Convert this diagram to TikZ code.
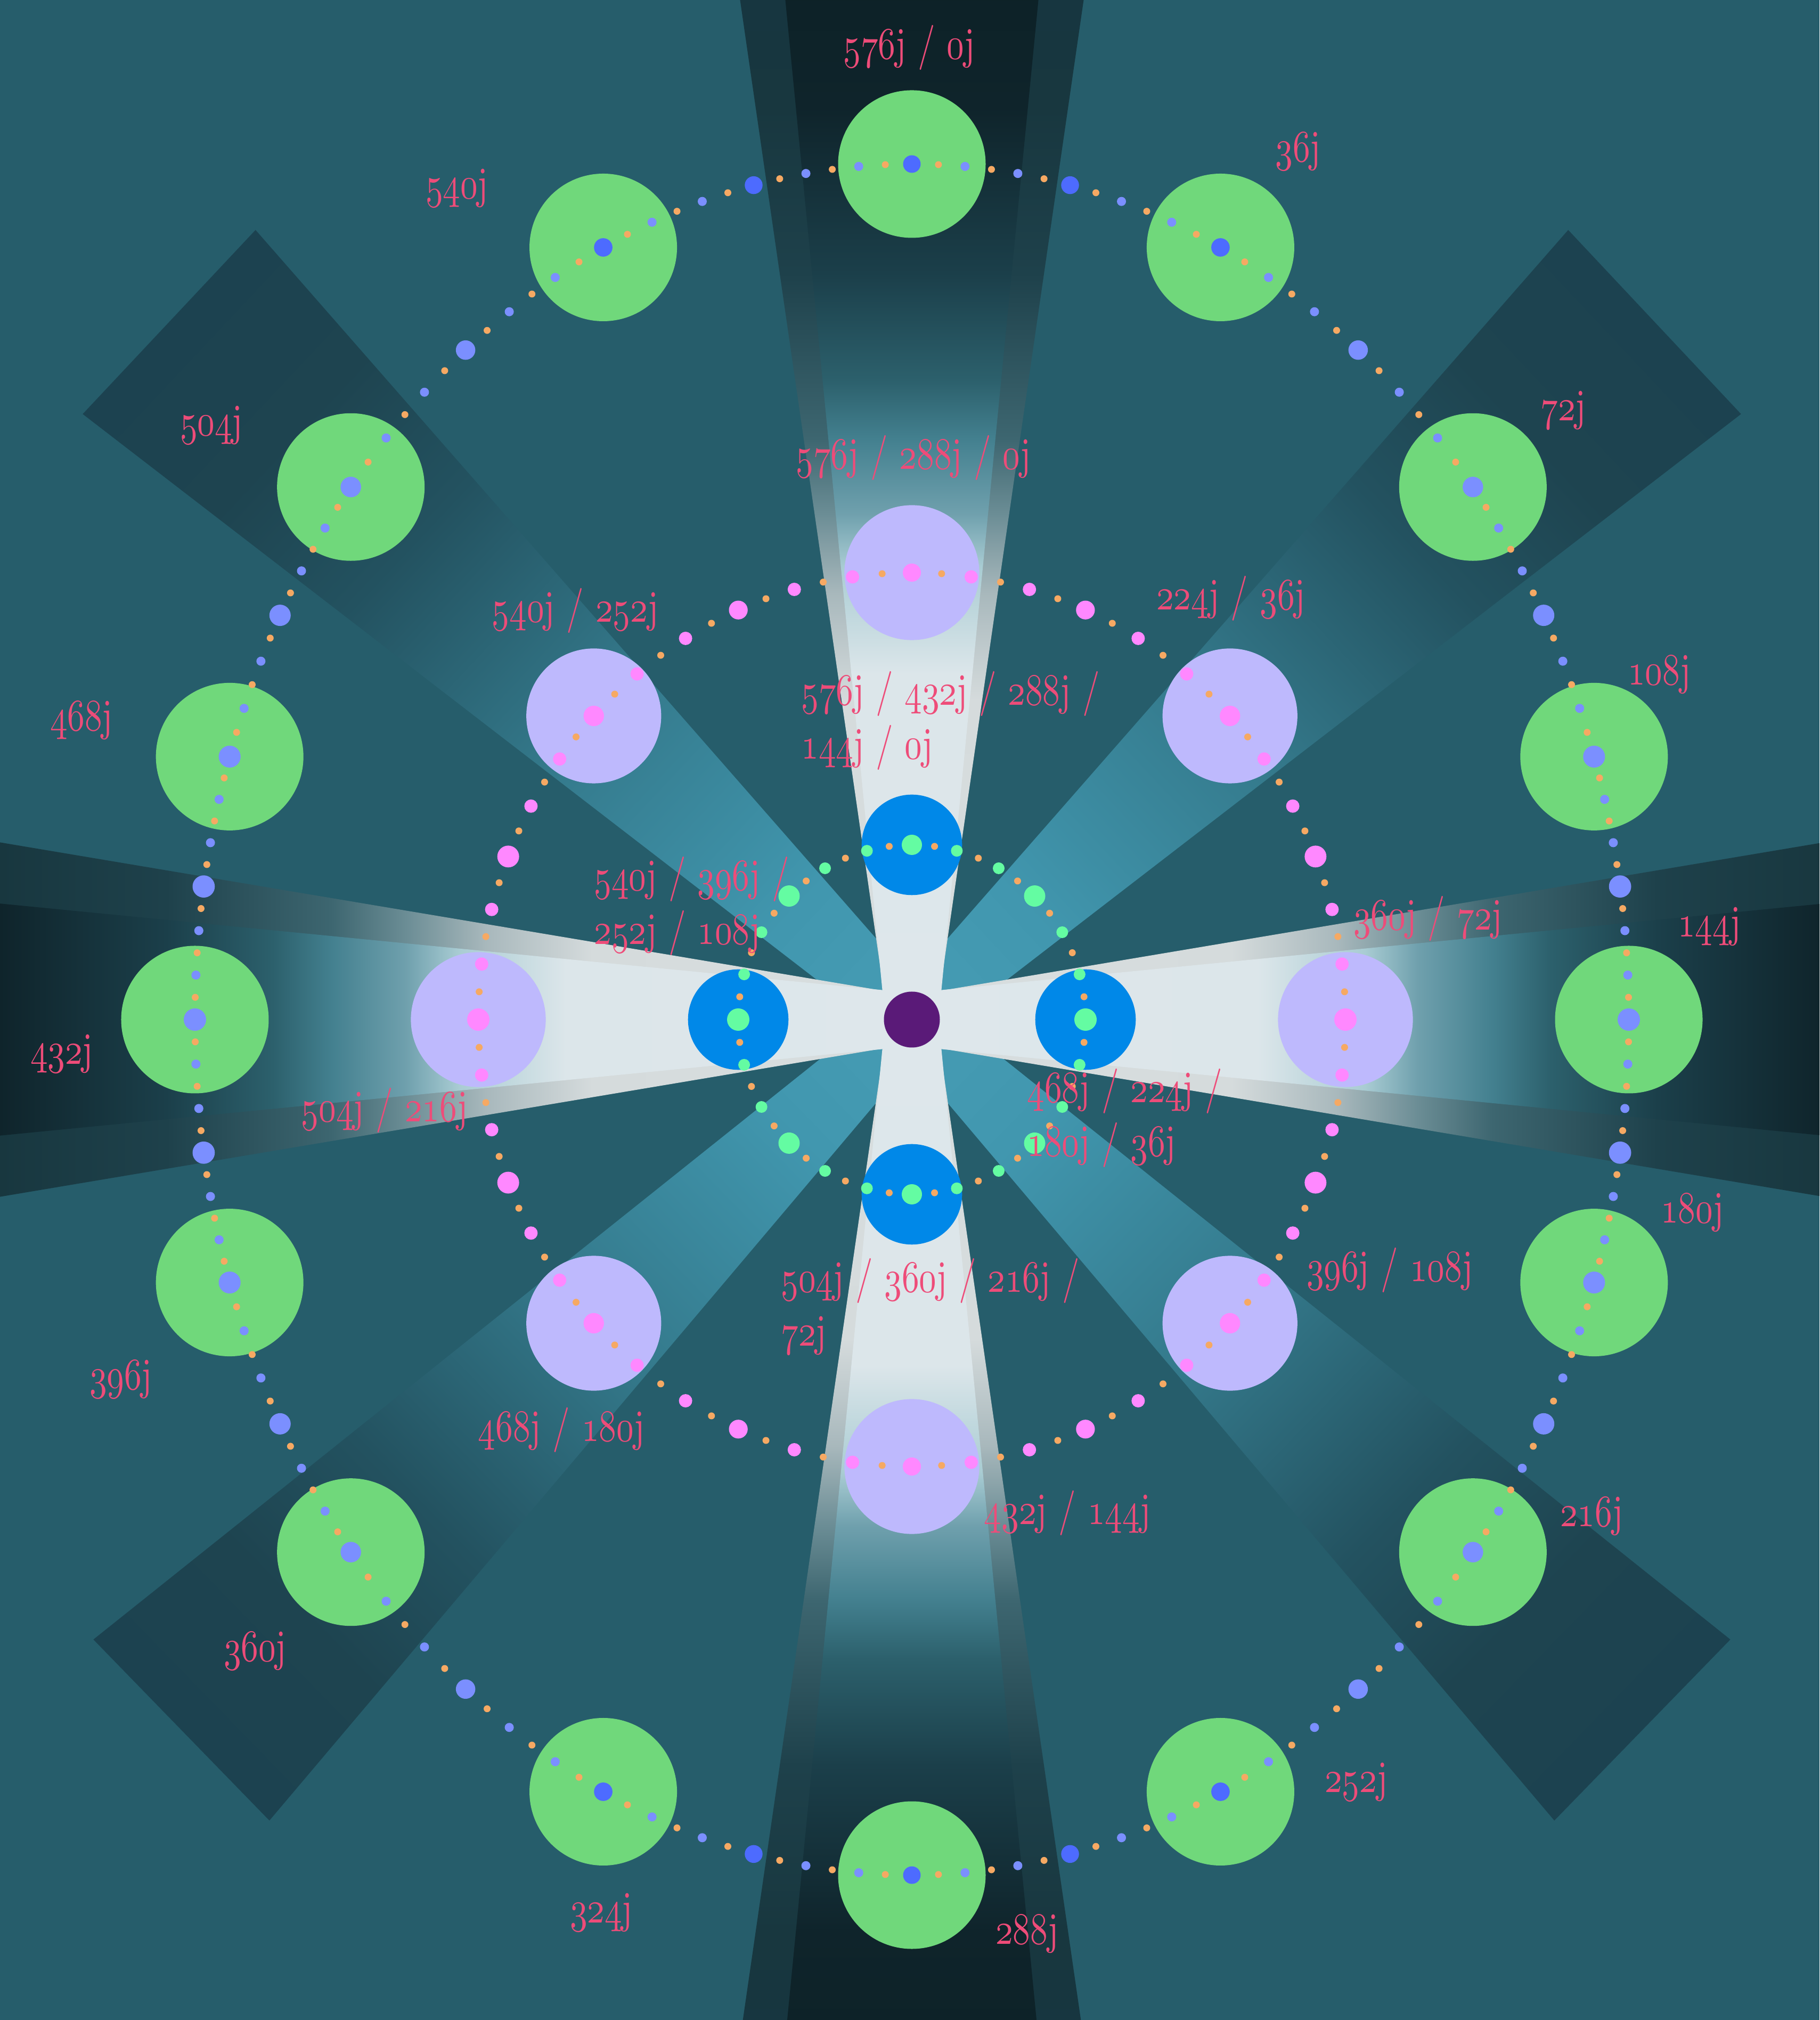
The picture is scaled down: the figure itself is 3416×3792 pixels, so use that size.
\documentclass[tikz,border=0pt]{standalone}
\usetikzlibrary{calc}
\definecolor{bgteal}{HTML}{265D6B}
\definecolor{greenplanet}{HTML}{70D87B}
\definecolor{lavender}{HTML}{BEB9FD}
\definecolor{moonblue}{HTML}{0088E8}
\definecolor{corepurple}{HTML}{5A1A78}
\definecolor{dotorange}{HTML}{F6A963}
\definecolor{dotblue}{HTML}{4D6BFF}
\definecolor{dotsky}{HTML}{7B8FFF}
\definecolor{dotpink}{HTML}{FF88FF}
\definecolor{dotmint}{HTML}{64FCA2}
\definecolor{labelred}{HTML}{EE4C79}
% glow of the diagonal wedges
\definecolor{glowA}{HTML}{469CB4}\definecolor{glowB}{HTML}{4197AF}
\definecolor{glowC}{HTML}{34798B}\definecolor{glowD}{HTML}{235260}
\definecolor{glowE}{HTML}{1E4450}\definecolor{glowF}{HTML}{1C4250}
% axial beams
\definecolor{inA}{HTML}{DEE7EB}\definecolor{inB}{HTML}{DCE6EA}
\definecolor{inC}{HTML}{A9CCD3}\definecolor{inD}{HTML}{6FA0AD}
\definecolor{inE}{HTML}{43808F}\definecolor{inF}{HTML}{2C606C}
\definecolor{inG}{HTML}{1B3F4A}\definecolor{inH}{HTML}{0F242B}
\definecolor{inI}{HTML}{0C2126}
\definecolor{outA}{HTML}{D8DEDF}\definecolor{outB}{HTML}{D5DBDC}
\definecolor{outC}{HTML}{A8B8BC}\definecolor{outD}{HTML}{6B8D95}
\definecolor{outE}{HTML}{3D6670}\definecolor{outF}{HTML}{1E414B}
\definecolor{outG}{HTML}{18373F}\definecolor{outH}{HTML}{163540}
\pgfdeclarehorizontalshading{diagglow}{100bp}{color(0bp)=(glowA); color(25bp)=(glowA); color(32.8bp)=(glowB); color(46.5bp)=(glowC); color(58.9bp)=(glowD); color(66.8bp)=(glowE); color(75bp)=(glowF); color(100bp)=(glowF)}
\pgfdeclarehorizontalshading{beamin}{100bp}{color(0bp)=(inA); color(25bp)=(inA); color(41.25bp)=(inB); color(46.25bp)=(inC); color(48.75bp)=(inD); color(52.25bp)=(inE); color(55bp)=(inF); color(60bp)=(inG); color(67.8bp)=(inH); color(75bp)=(inI); color(100bp)=(inI)}
\pgfdeclarehorizontalshading{beamout}{100bp}{color(0bp)=(outA); color(25bp)=(outA); color(40bp)=(outB); color(45bp)=(outC); color(48.75bp)=(outD); color(52.25bp)=(outE); color(60bp)=(outF); color(67.8bp)=(outG); color(75bp)=(outH); color(100bp)=(outH)}
\tikzset{
  lbl/.style={text=labelred,font=\fontsize{10}{12}\selectfont,inner sep=0pt},
  lblblock/.style={lbl,anchor=west},
  orangedot/.style={fill=dotorange},
}
\newcommand{\pj}[1]{{\usefont{OML}{cmm}{m}{it}#1}j}
\newcommand{\lab}[1]{\scalebox{0.93}[1.2]{#1}}
\newcommand{\labtwo}[2]{\scalebox{0.93}[1.2]{\begin{tabular}{@{}l@{}}#1\\#2\end{tabular}}}

\begin{document}
\begin{tikzpicture}[x=0.005cm,y=0.005cm]
\useasboundingbox (-1712,-1878) rectangle (1704,1914);
\clip (-1712,-1878) rectangle (1704,1914);
\fill[bgteal] (-1712,-1878) rectangle (1704,1914);

% diagonal wedges
\foreach \a in {43.2,136.8,224.2,315.8}{
  \begin{scope}[transform canvas={rotate=\a}]
    \shade[shading=diagglow] (0,-50) -- (1913,-237) -- (1913,237) -- (0,50) -- cycle;
  \end{scope}
}
% axial beams
\foreach \a/\w in {0/381,90/335,180/381,270/335}{
  \begin{scope}[transform canvas={rotate=\a}]
    \shade[shading=beamout] (0,-45) -- (2000,-\w) -- (2000,\w) -- (0,45) -- cycle;
    \shade[shading=beamin] (0,-50) -- (2000,-246) -- (2000,246) -- (0,50) -- cycle;
  \end{scope}
}

% outer ring
\foreach \ph in {0,17.9,38.5,64.5,90,115.5,141.5,162.1,180,197.9,218.5,244.5,270,295.5,321.5,342.1}
  \fill[greenplanet] ({1346*cos(\ph)},{1606*sin(\ph)}) circle[radius=138.5];
\foreach \pa/\pb in {0/17.9,17.9/38.5,38.5/64.5,64.5/90,90/115.5,115.5/141.5,141.5/162.1,162.1/180,180/197.9,197.9/218.5,218.5/244.5,244.5/270,270/295.5,295.5/321.5,321.5/342.1,342.1/360}
  \foreach \k in {0,...,11}{
    \pgfmathsetmacro\ph{\pa+(\pb-\pa)*\k/12}
    \pgfmathtruncatemacro\kind{mod(\k,6)==0 ? 2 : mod(\k,2)}
    \coordinate (dot) at ({1346*cos(\ph)},{1606*sin(\ph)});
    \ifcase\kind
      \fill[dotsky] (dot) circle[radius=8.5];
    \or
      \fill[orangedot] (dot) circle[radius=6.5];
    \or
      \pgfmathsetmacro\rr{16.5+4.5*pow(cos(\ph),2)}
      \pgfmathtruncatemacro\dk{abs(sin(\ph))>0.85}
      \ifnum\dk=1 \fill[dotblue] (dot) circle[radius=\rr]; \else \fill[dotsky] (dot) circle[radius=\rr]; \fi
    \fi
  }

% inner ring
\foreach \ph in {0,42.8,90,137.2,180,222.8,270,317.2}
  \fill[lavender] ({814*cos(\ph)},{839*sin(\ph)}) circle[radius=126.6];
\foreach \pa/\pb in {0/42.8,42.8/90,90/137.2,137.2/180,180/222.8,222.8/270,270/317.2,317.2/360}
  \foreach \k in {0,...,11}{
    \pgfmathsetmacro\ph{\pa+(\pb-\pa)*\k/12}
    \pgfmathtruncatemacro\kind{mod(\k,6)==0 ? 2 : mod(\k,2)}
    \coordinate (dot) at ({814*cos(\ph)},{839*sin(\ph)});
    \ifcase\kind
      \fill[dotpink] (dot) circle[radius=12.5];
    \or
      \fill[orangedot] (dot) circle[radius=6.5];
    \or
      \pgfmathsetmacro\rr{17+4*pow(cos(\ph),2)}
      \fill[dotpink] (dot) circle[radius=\rr];
    \fi
  }

% core ring
\foreach \ph in {0,90,180,270}
  \fill[moonblue] ({326*cos(\ph)},{328*sin(\ph)}) circle[radius=94.3];
\foreach \pa/\pb in {0/90,90/180,180/270,270/360}
  \foreach \k in {0,...,11}{
    \pgfmathsetmacro\ph{\pa+(\pb-\pa)*\k/12}
    \pgfmathtruncatemacro\kind{mod(\k,6)==0 ? 2 : mod(\k,2)}
    \coordinate (dot) at ({326*cos(\ph)},{328*sin(\ph)});
    \ifcase\kind
      \fill[dotmint] (dot) circle[radius=11];
    \or
      \fill[orangedot] (dot) circle[radius=6.5];
    \or
      \pgfmathsetmacro\rr{19+2*pow(cos(\ph),2)}
      \fill[dotmint] (dot) circle[radius=\rr];
    \fi
  }
\fill[corepurple] (0,0) circle[radius=52.5];

% labels, outer ring
\node[lbl] (o0) at (-5,1825) {\lab{\pj{576} / \pj{0}}};
\node[lbl] (o36) at (725,1629) {\lab{\pj{36}}};
\node[lbl] (o72) at (1223,1144) {\lab{\pj{72}}};
\node[lbl] (o108) at (1403,648) {\lab{\pj{108}}};
\node[lbl] (o144) at (1497,175) {\lab{\pj{144}}};
\node[lbl] (o180) at (1465,-362) {\lab{\pj{180}}};
\node[lbl] (o216) at (1276,-932) {\lab{\pj{216}}};
\node[lbl] (o252) at (834,-1431) {\lab{\pj{252}}};
\node[lbl] (o288) at (216,-1716) {\lab{\pj{288}}};
\node[lbl] (o324) at (-583,-1676) {\lab{\pj{324}}};
\node[lbl] (o360) at (-1233,-1185) {\lab{\pj{360}}};
\node[lbl] (o396) at (-1485,-675) {\lab{\pj{396}}};
\node[lbl] (o432) at (-1596,-64) {\lab{\pj{432}}};
\node[lbl] (o468) at (-1559,562) {\lab{\pj{468}}};
\node[lbl] (o504) at (-1315,1116) {\lab{\pj{504}}};
\node[lbl] (o540) at (-854,1560) {\lab{\pj{540}}};
% labels, inner ring
\node[lbl] (m0) at (3,1055) {\lab{\pj{576} / \pj{288} / \pj{0}}};
\node[lbl] (m36) at (599,791) {\lab{\pj{224} / \pj{36}}};
\node[lbl] (m72) at (969,190) {\lab{\pj{360} / \pj{72}}};
\node[lbl] (m108) at (897,-470) {\lab{\pj{396} / \pj{108}}};
\node[lbl] (m144) at (292,-926) {\lab{\pj{432} / \pj{144}}};
\node[lbl] (m180) at (-658,-770) {\lab{\pj{468} / \pj{180}}};
\node[lbl] (m216) at (-990,-170) {\lab{\pj{504} / \pj{216}}};
\node[lbl] (m252) at (-632,768) {\lab{\pj{540} / \pj{252}}};
% labels, core ring
\node[lblblock] (c0) at (-209,560) {\labtwo{\pj{576} / \pj{432} / \pj{288} /}{\pj{144} / \pj{0}}};
\node[lblblock] (c36) at (215,-186) {\labtwo{\pj{468} / \pj{224} /}{\pj{180} / \pj{36}}};
\node[lblblock] (c72) at (-247,-542) {\labtwo{\pj{504} / \pj{360} / \pj{216} /}{\pj{72}}};
\node[lblblock] (c108) at (-598,212) {\labtwo{\pj{540} / \pj{396} /}{\pj{252} / \pj{108}}};
\end{tikzpicture}
\end{document}
